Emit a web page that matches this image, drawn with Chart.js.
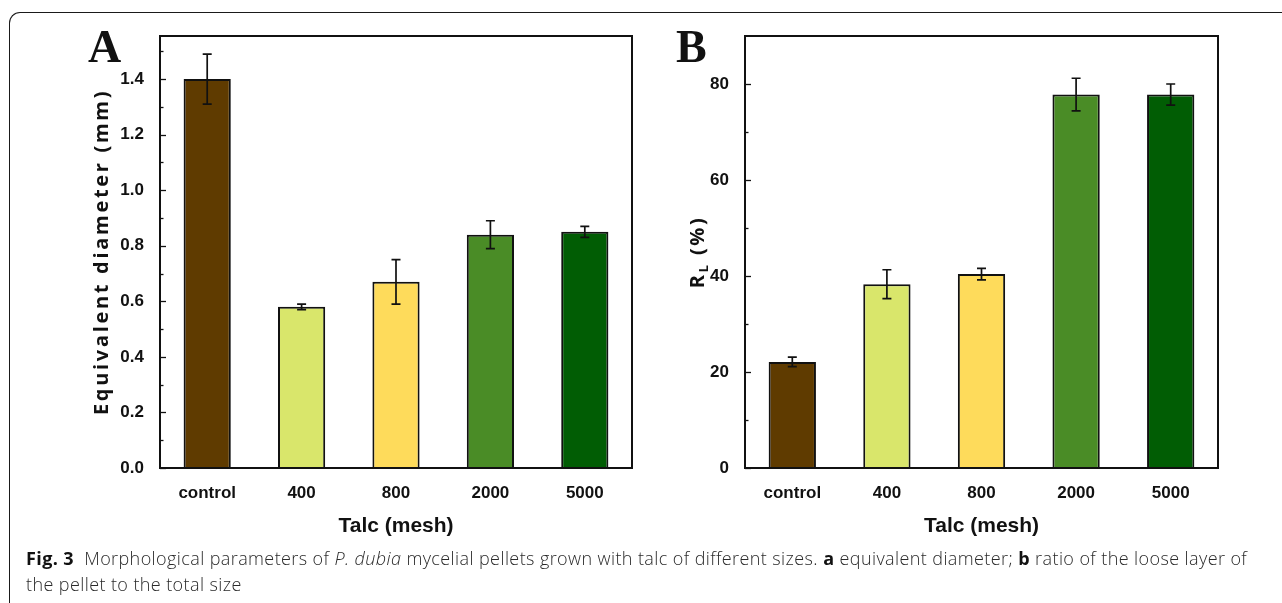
<!DOCTYPE html>
<html>
<head>
<meta charset="utf-8">
<script src="https://cdn.jsdelivr.net/npm/chart.js@4/dist/chart.umd.min.js"></script>
<style>
  html, body { margin: 0; padding: 0; background: #fff; }
  body { width: 1282px; height: 603px; position: relative; overflow: hidden; }
  .frame { position: absolute; left: 9px; top: 12px; width: 1400px; height: 700px;
           border-top: 1.5px solid #1a1a1a; border-left: 1.5px solid #1a1a1a; border-top-left-radius: 11px; }
  .panel { position: absolute; top: 0; height: 560px; }
  #boxA { left: 0; width: 640px; }
  #boxB { left: 640px; width: 642px; }
  .letter { position: absolute; top: 24px; font: bold 46px "Liberation Serif", "Times New Roman", serif; line-height: 1; color: #111; }
  .cap { position: absolute; left: 26px; top: 545px; font: 300 18px "Open Sans", "Noto Sans", sans-serif; line-height: 26px;
         letter-spacing: 0.4px; color: #2a2a2a; white-space: nowrap; }
  .cap b { font-weight: 700; color: #111; }
</style>
</head>
<body>
<div class="frame"></div>
<div class="panel" id="boxA"><canvas id="chartA"></canvas></div>
<div class="panel" id="boxB"><canvas id="chartB"></canvas></div>
<div class="letter" style="left:88px">A</div>
<div class="letter" style="left:676px">B</div>
<div class="cap"><b>Fig. 3</b>&nbsp;&nbsp;Morphological parameters of <i>P. dubia</i> mycelial pellets grown with talc of different sizes. <b>a</b> equivalent diameter; <b>b</b> ratio of the loose layer of<br>the pellet to the total size</div>

<script>
// data
const categories = ['control', '400', '800', '2000', '5000'];
const barColors = ['#5f3b00', '#d9e66b', '#fedb5b', '#4a8c26', '#015d04'];

const diameterMean = [1.40, 0.58, 0.67, 0.84, 0.85];
const diameterErr = [0.09, 0.01, 0.08, 0.05, 0.02];
const diameterTicks = [0, 0.1, 0.2, 0.3, 0.4, 0.5, 0.6, 0.7, 0.8, 0.9, 1.0, 1.1, 1.2, 1.3, 1.4, 1.5];

const ratioMean = [22.1, 38.3, 40.4, 77.8, 77.8];
const ratioErr = [1.0, 3.0, 1.2, 3.4, 2.2];
const ratioTicks = [0, 10, 20, 30, 40, 50, 60, 70, 80];

const ink = '#111';

// box around the plot area, inward ticks, error bars
const framePlugin = {
  id: 'frame',
  afterDatasetsDraw(chart, args, opts) {
    const ctx = chart.ctx, a = chart.chartArea, y = chart.scales.y;
    ctx.save();
    ctx.strokeStyle = ink;

    // error bars
    const meta = chart.getDatasetMeta(0);
    ctx.lineWidth = 1.7;
    meta.data.forEach((bar, i) => {
      const top = y.getPixelForValue(opts.mean[i] + opts.err[i]);
      const bot = y.getPixelForValue(opts.mean[i] - opts.err[i]);
      ctx.beginPath();
      ctx.moveTo(bar.x, top); ctx.lineTo(bar.x, bot);
      ctx.moveTo(bar.x - 4.5, top); ctx.lineTo(bar.x + 4.5, top);
      ctx.moveTo(bar.x - 4.5, bot); ctx.lineTo(bar.x + 4.5, bot);
      ctx.stroke();
    });

    // ticks pointing into the plot, major every other one
    ctx.lineWidth = 1.3;
    y.ticks.forEach((t, i) => {
      const py = Math.round(y.getPixelForValue(t.value)) + 0.5;
      const len = i % 2 === 0 ? 6 : 3.5;
      ctx.beginPath();
      ctx.moveTo(a.left, py); ctx.lineTo(a.left + len, py);
      ctx.stroke();
    });

    ctx.lineWidth = 2;
    ctx.strokeRect(a.left, a.top, a.right - a.left, a.bottom - a.top);
    ctx.restore();
  }
};

// rotated y title, with optional subscript parts
const yTitlePlugin = {
  id: 'yTitle',
  afterDraw(chart, args, opts) {
    const ctx = chart.ctx, a = chart.chartArea;
    const big = 'bold 20px "Open Sans", sans-serif';
    const small = 'bold 13px "Open Sans", sans-serif';
    ctx.save();
    ctx.translate(opts.x, (a.top + a.bottom) / 2);
    ctx.rotate(-Math.PI / 2);
    ctx.fillStyle = ink;
    ctx.textBaseline = 'middle';
    ctx.textAlign = 'left';
    ctx.letterSpacing = opts.spacing + 'px';
    const widths = opts.parts.map(p => {
      ctx.font = p.sub ? small : big;
      return ctx.measureText(p.text).width;
    });
    let cx = -widths.reduce((s, w) => s + w, 0) / 2;
    opts.parts.forEach((p, i) => {
      ctx.font = p.sub ? small : big;
      ctx.fillText(p.text, cx, p.sub ? 6 : 0);
      cx += widths[i];
    });
    ctx.restore();
  }
};

function makeChart(id, mean, err, tickValues, yMax, yWidth, rightPad, fmt, title) {
  return new Chart(document.getElementById(id), {
    type: 'bar',
    data: {
      labels: categories,
      datasets: [{
        data: mean,
        backgroundColor: barColors,
        borderColor: ink,
        borderWidth: 2,
        barPercentage: 0.5,
        categoryPercentage: 1.0
      }]
    },
    options: {
      responsive: true,
      maintainAspectRatio: false,
      animation: false,
      layout: { padding: { top: 36, right: rightPad, left: 0, bottom: 0 } },
      plugins: {
        legend: { display: false },
        tooltip: { enabled: false },
        frame: { mean: mean, err: err },
        yTitle: title
      },
      scales: {
        x: {
          grid: { display: false },
          border: { display: false },
          ticks: { color: ink, padding: 7, maxRotation: 0, font: { family: 'Liberation Sans', weight: 'bold', size: 17 } },
          title: { display: true, text: 'Talc (mesh)', color: ink, padding: { bottom: 21 },
                   font: { family: 'Liberation Sans', weight: 'bold', size: 21 } },
          afterFit: s => { s.height = 92; }
        },
        y: {
          min: 0,
          max: yMax,
          grid: { display: false },
          border: { display: false },
          afterBuildTicks: s => { s.ticks = tickValues.map(v => ({ value: v })); },
          ticks: {
            autoSkip: false,
            color: ink,
            padding: 8,
            font: { family: 'Liberation Sans', weight: 'bold', size: 17 },
            callback: (v, i) => i % 2 === 0 ? fmt(v) : ''
          },
          afterFit: s => { s.width = yWidth; }
        }
      }
    },
    plugins: [framePlugin, yTitlePlugin]
  });
}

makeChart('chartA', diameterMean, diameterErr, diameterTicks, 1.555, 160, 8, v => v.toFixed(1),
  { x: 102, spacing: 2.7, parts: [{ text: 'Equivalent diameter (mm)' }] });

makeChart('chartB', ratioMean, ratioErr, ratioTicks, 90, 105, 64, v => String(v),
  { x: 58, spacing: 2.5, parts: [{ text: 'R' }, { text: 'L', sub: true }, { text: ' (%)' }] });
</script>
</body>
</html>
